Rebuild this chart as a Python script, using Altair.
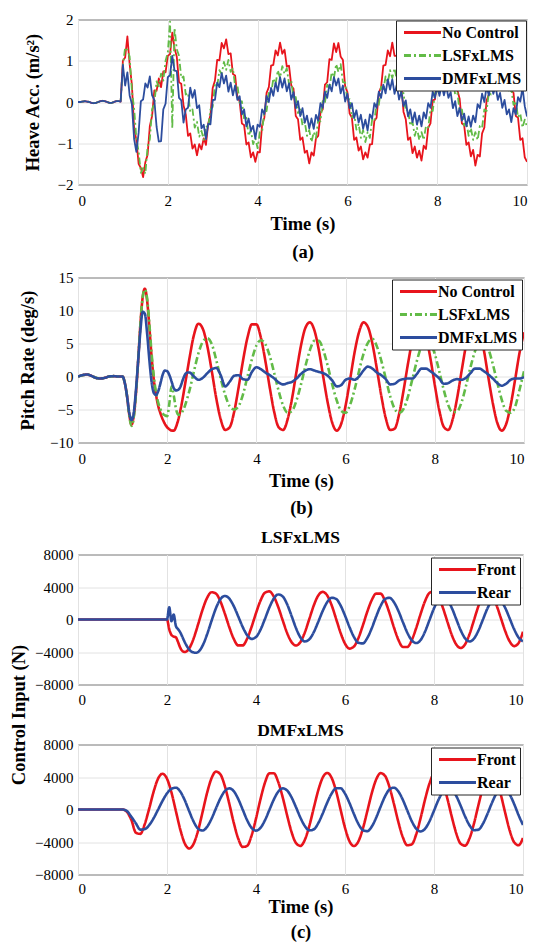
import altair as alt
import pandas as pd

FONT = "Liberation Serif"

# ---------------- categories / styles ----------------
SERIES3 = ["No Control", "LSFxLMS", "DMFxLMS"]
COLORS3 = ["#E8141C", "#62BB47", "#2C4D9E"]
DASH3 = [[1, 0], [7, 3, 2, 3], [1, 0]]
SERIES2 = ["Front", "Rear"]
COLORS2 = ["#E8141C", "#2C4D9E"]
DASH2 = [[1, 0], [1, 0]]

X_TICKS = [0, 2, 4, 6, 8, 10]
HEAVE_TICKS = [-2, -1, 0, 1, 2]
PITCH_TICKS = [-10, -5, 0, 5, 10, 15]
CTRL_TICKS = [-8000, -4000, 0, 4000, 8000]

# ---------------- (a) heave acceleration, sampled every 0.05 s ----------------
HEAVE_T = [round(0.05 * i, 2) for i in range(201)]
HEAVE_PRE = [0.00, 0.00, 0.01, 0.02, 0.01, 0.00, -0.02, -0.03, -0.02, 0.00,
             0.02, 0.03, 0.02, 0.00, -0.02, -0.02, 0.00, 0.02, 0.02, 0.01]
HEAVE_NC = [
    1.00, 1.08, 1.59, 0.92, 0.42, -0.64, -0.92, -1.50, -1.60, -1.82, -1.46, -1.28, -0.58, -0.34, 0.28, 0.27, 0.57, 0.36, 0.74, 0.72,
    1.12, 1.16, 1.68, 1.30, 1.10, 0.48, 0.44, -0.08, -0.30, -0.82, -0.76, -1.13, -1.03, -1.29, -1.02, -1.15, -0.88, -1.04, -0.52, -0.32,
    0.34, 0.52, 1.02, 1.01, 1.43, 1.30, 1.52, 1.16, 1.18, 0.68, 0.64, 0.12, 0.02, -0.52, -0.56, -1.03, -0.98, -1.34, -1.22, -1.45,
    -1.21, -1.22, -0.56, -0.38, 0.22, 0.36, 0.88, 0.90, 1.25, 1.13, 1.44, 1.17, 1.27, 0.86, 0.88, 0.40, 0.32, -0.34, -0.42, -0.92,
    -0.86, -1.23, -1.18, -1.49, -1.22, -1.30, -0.88, -0.82, -0.26, -0.18, 0.42, 0.48, 1.04, 1.02, 1.42, 1.21, 1.43, 1.10, 1.02, 0.38,
    0.24, -0.28, -0.38, -0.92, -0.86, -1.18, -1.08, -1.39, -1.22, -1.35, -1.03, -1.02, -0.46, -0.38, 0.22, 0.36, 0.88, 0.90, 1.25, 1.11,
    1.44, 1.12, 1.12, 0.58, 0.42, -0.24, -0.42, -0.92, -0.86, -1.24, -1.08, -1.35, -1.18, -1.42, -1.06, -1.14, -0.62, -0.52, 0.04, 0.06,
    0.62, 0.68, 1.14, 1.12, 1.38, 1.18, 1.34, 0.86, 0.82, 0.28, 0.08, -0.52, -0.56, -1.04, -0.98, -1.32, -1.16, -1.54, -1.28, -1.32,
    -0.76, -0.62, 0.04, 0.18, 0.74, 0.82, 1.22, 1.08, 1.44, 1.18, 1.32, 0.86, 0.84, 0.28, 0.22, -0.34, -0.38, -0.92, -0.88, -1.34,
    -1.45,
]
HEAVE_LS = [
    0.90, 1.32, 1.26, 1.10, 0.28, -0.16, -0.88, -1.20, -1.72, -1.60, -1.74, -1.08, -0.90, -0.18, -0.04, 0.50, 0.38, 0.69, 0.52, 1.00,
    1.20, 1.95, -0.64, 1.80, 1.28, 1.12, 0.58, 0.62, 0.18, 0.22, -0.24, -0.18, -0.62, -0.48, -0.84, -0.70, -0.92, -0.58, -0.62, -0.18,
    -0.12, 0.42, 0.38, 0.77, 0.68, 0.97, 0.78, 1.02, 0.73, 0.82, 0.38, 0.42, -0.02, 0.02, -0.42, -0.38, -0.82, -0.68, -1.02, -0.88,
    -1.12, -0.73, -0.72, -0.23, -0.22, 0.22, 0.18, 0.57, 0.43, 0.77, 0.58, 0.87, 0.68, 0.82, 0.43, 0.52, 0.08, 0.12, -0.27, -0.18,
    -0.57, -0.48, -0.82, -0.68, -0.97, -0.73, -0.87, -0.43, -0.47, 0.02, -0.02, 0.42, 0.33, 0.72, 0.58, 0.92, 0.73, 0.92, 0.48, 0.47,
    0.03, 0.07, -0.37, -0.28, -0.67, -0.53, -0.87, -0.68, -0.97, -0.73, -0.87, -0.43, -0.47, -0.03, -0.07, 0.37, 0.28, 0.62, 0.48, 0.77,
    0.58, 0.82, 0.53, 0.62, 0.18, 0.22, -0.22, -0.18, -0.57, -0.48, -0.82, -0.63, -0.92, -0.73, -0.92, -0.58, -0.62, -0.18, -0.22, 0.22,
    0.18, 0.57, 0.43, 0.77, 0.58, 0.82, 0.48, 0.57, 0.18, 0.22, -0.22, -0.18, -0.57, -0.48, -0.82, -0.63, -0.92, -0.73, -0.92, -0.58,
    -0.62, -0.18, -0.22, 0.22, 0.18, 0.57, 0.43, 0.77, 0.58, 0.82, 0.48, 0.62, 0.23, 0.32, -0.07, 0.02, -0.37, -0.28, -0.62, -0.43,
    -0.60,
]
HEAVE_DM = [
    0.90, 0.40, 0.72, 0.16, -0.05, -0.90, -1.21, -0.75, 0.02, 0.06, 0.45, 0.35, 0.62, 0.16, 0.05, -0.60, -0.96, -0.95, -0.18, -0.04,
    0.60, 0.65, 1.12, 0.76, 0.75, 0.10, 0.04, -0.50, -0.18, -0.14, 0.35, 0.10, 0.29, -0.15, -0.08, -0.64, -0.55, -0.90, -0.53, -0.54,
    0.05, 0.05, 0.47, 0.36, 0.70, 0.45, 0.64, 0.25, 0.47, 0.16, 0.40, 0.05, 0.14, -0.30, -0.18, -0.59, -0.40, -0.70, -0.58, -0.89,
    -0.55, -0.60, -0.18, -0.29, 0.15, 0.00, 0.34, 0.15, 0.47, 0.26, 0.60, 0.35, 0.57, 0.26, 0.45, 0.06, 0.24, -0.15, 0.02, -0.34,
    -0.15, -0.50, -0.33, -0.64, -0.40, -0.65, -0.31, -0.45, -0.03, -0.14, 0.25, 0.10, 0.42, 0.26, 0.60, 0.40, 0.57, 0.21, 0.40, 0.01,
    0.20, -0.15, -0.03, -0.39, -0.20, -0.50, -0.31, -0.65, -0.43, -0.69, -0.30, -0.40, -0.03, -0.14, 0.25, 0.10, 0.42, 0.21, 0.55, 0.30,
    0.55, 0.20, 0.42, 0.06, 0.25, -0.10, 0.04, -0.35, -0.18, -0.49, -0.25, -0.55, -0.33, -0.59, -0.25, -0.40, -0.03, -0.14, 0.25, 0.10,
    0.40, 0.15, 0.42, 0.16, 0.40, 0.10, 0.24, -0.15, 0.02, -0.34, -0.15, -0.45, -0.28, -0.59, -0.35, -0.60, -0.33, -0.49, -0.05, -0.15,
    0.20, 0.00, 0.37, 0.16, 0.45, 0.20, 0.39, 0.05, 0.22, -0.14, 0.05, -0.30, -0.18, -0.49, -0.15, -0.30, 0.12, 0.01, 0.35, -0.10,
    -0.35,
]

# ---------------- (b) pitch rate ----------------
PITCH_T = ([round(0.1 * i, 2) for i in range(11)]
           + [round(1.0 + 0.05 * i, 2) for i in range(1, 31)]
           + [round(2.5 + 0.1 * i, 2) for i in range(1, 76)])
PITCH_PRE = [0.0, 0.2, 0.3, 0.1, -0.2, -0.3, -0.2, 0.0, 0.05, 0.0, 0.0]
PITCH_NC = [
    -1.0, -3.0, -5.8, -7.3, -6.0, -2.5, 2.5, 8.0, 12.0, 13.3,
    11.5, 7.5, 3.0, -0.5, -2.8, -4.5, -5.6, -6.5, -7.2, -7.7,
    -8.0, -8.2, -8.2, -7.6, -6.5, -5.0, -3.2, -1.2, 0.8, 2.8,
    6.3, 8.0, 7.2, 4.6, 0.8, -3.3, -6.5, -8.1, -7.7, -5.4,
    -1.7, 2.4, 5.9, 7.9, 7.9, 5.9, 2.4, -1.7, -5.4, -7.7,
    -8.1, -6.5, -3.3, 0.8, 4.7, 7.4, 8.2, 7.0, 4.0, -0.1,
    -4.0, -7.0, -8.2, -7.2, -4.4, -0.5, 3.6, 6.7, 8.2, 7.5,
    5.0, 1.2, -2.9, -6.3, -8.1, -7.9, -5.7, -2.1, 2.0, 5.6,
    7.8, 8.0, 6.2, 2.8, -1.3, -5.1, -7.6, -8.1, -6.5, -3.3,
    0.8, 4.7, 7.4, 8.2, 7.0, 4.0, -0.1, -4.0, -7.0, -8.2,
    -7.2, -4.4, -0.5, 3.6, 6.7,
]
PITCH_LS = [
    -1.0, -3.0, -6.0, -7.5, -6.2, -2.5, 2.5, 8.0, 12.0, 13.2,
    11.8, 8.0, 3.5, 0.0, -2.5, -4.0, -5.0, -5.6, -5.9, -6.0,
    -4.0, -1.5, -3.0, -5.0, -5.8, -5.7, -5.2, -4.4, -3.3, -2.1,
    0.8, 3.5, 5.3, 5.8, 4.9, 2.5, -0.3, -2.8, -4.5, -5.0,
    -4.5, -2.7, 0.0, 2.6, 4.7, 5.5, 4.9, 3.1, 0.5, -2.2,
    -4.4, -5.5, -5.2, -3.6, -1.2, 1.6, 4.0, 5.4, 5.4, 4.0,
    1.6, -1.2, -3.6, -5.2, -5.5, -4.3, -2.0, 0.8, 3.4, 5.1,
    5.7, 4.6, 2.4, -0.3, -3.0, -4.9, -5.5, -4.9, -3.0, -0.3,
    2.4, 4.6, 5.6, 5.1, 3.4, 0.8, -2.0, -4.3, -5.4, -5.3,
    -3.9, -1.4, 1.4, 3.8, 5.3, 5.5, 4.2, 1.9, -0.9, -3.5,
    -5.2, -5.5, -4.6, -2.0, 0.8,
]
PITCH_DM = [
    -1.0, -3.0, -5.5, -6.6, -5.5, -2.0, 2.5, 7.0, 9.8, 9.5,
    6.5, 2.5, -0.8, -2.5, -2.8, -2.2, -1.0, 0.3, 0.9, 0.8,
    0.2, -0.8, -1.8, -2.1, -2.0, -1.5, -0.5, 0.3, 0.6, 0.6,
    0.0, -0.5, -0.2, 0.5, 1.1, 1.3, 0.2, -1.5, -0.8, 0.1,
    0.2, -0.4, -0.5, 0.7, 1.4, 1.1, 0.6, 0.2, -0.3, -0.9,
    -1.2, -1.0, -0.8, -0.3, 0.4, 0.9, 1.1, 0.9, 0.7, 0.5,
    0.1, -0.6, -1.5, -1.3, -0.5, -0.3, -0.5, 0.0, 0.9, 1.5,
    1.2, 0.6, 0.2, -0.4, -1.2, -1.1, -0.6, -0.4, -0.3, -0.3,
    0.4, 1.2, 1.2, 0.8, 0.3, -0.3, -1.1, -1.0, -0.6, -0.4,
    -0.5, -0.2, 0.5, 1.2, 1.2, 0.8, 0.3, -0.3, -1.0, -1.4,
    -1.1, -0.5, -0.3, -0.3, -0.1,
]

# ---------------- (c) control inputs ----------------
LS_T = ([0.0, 0.5, 1.0, 1.5, 1.95]
        + [round(2.0 + 0.05 * i, 2) for i in range(15)]
        + [round(2.7 + 0.1 * i, 2) for i in range(1, 74)])
LS_FRONT = [
    0, 0, 0, 0, 0,
    0, -1200, -1900, -2100, -2200, -2800, -3500, -3900, -4000, -3880, -3550, -3010, -2310, -1480, -580,
    1220, 2650, 3360,
    3190, 2230, 720, -950, -2380, -3190, -3190, -2370, -920, 780,
    2310, 3290, 3460, 2820, 1530, -100, -1670, -2790, -3200, -2760,
    -1550, 100, 1750, 2960, 3400, 2960, 1755, 77, -1630, -2970,
    -3580, -3330, -2300, -750, 950, 2380, 3190, 3180, 2300, 780,
    -980, -2500, -3380, -3390, -2540, -1050, 700, 2280, 3280, 3460,
    2790, 1440, -260, -1900, -3070, -3500, -3040, -1775, -50, 1675,
    2940, 3400, 2980, 1825, 220, -1420, -2690, -3280, -2900, -1500,
]
LS_REAR = [
    0, 0, 0, 0, 0,
    0, 1500, -200, 600, -800, -1200, -1600, -2200, -2800, -3300, -3700, -3950, -4050, -4100, -4000,
    -3220, -1840, -180,
    1390, 2500, 2900, 2570, 1650, 390, -910, -1920, -2390, -2160,
    -1270, 60, 1470, 2575, 3085, 2840, 1870, 430, -1070, -2220,
    -2700, -2424, -1541, -273, 1064, 2137, 2669, 2530, 1735, 486,
    -920, -2140, -2870, -2940, -2290, -1090, 360, 1675, 2516, 2670,
    2134, 1053, -310, -1620, -2560, -2900, -2520, -1475, -50, 1375,
    2418, 2800, 2430, 1425, 50, -1325, -2330, -2700, -2338, -1350,
    0, 1350, 2338, 2700, 2361, 1431, 141, -1184, -2212, -2685,
]
DM_T = [round(0.1 * i, 2) for i in range(101)]
DM_FRONT = [
    0, 0, 0, 0, 0, 0, 0, 0, 0, 0, 0,
    -300, -1300, -2850, -3000, -1800, 115, 2205, 3806, 4400, 3784,
    2100, -200, -2500, -4184, -4800, -4200, -2570, -300, 2030, 3840,
    4670, 4320, 2873, 711, -1630, -3568, -4604, -4480, -3210, -1120,
    1250, 3280, 4450, 4460, 3380, 1500, -740, -2790, -4140, -4477,
    -3696, -1980, 228, 2377, 3936, 4500, 3897, 2250, 0, -2250,
    -3897, -4500, -3936, -2385, -235, 1973, 3686, 4475, 4136, 2752,
    681, -1561, -3416, -4408, -4287, -3056, -1035, 1255, 3222, 4351,
    4357, 3264, 1346, -905, -2930, -4220, -4446, -3526, -1693, 580,
    2701, 4123, 4476, 3650, 1860, -415, -2566, -4015, -4400, -3500,
]
DM_REAR = [
    0, 0, 0, 0, 0, 0, 0, 0, 0, 0, 0,
    -200, -900, -1700, -2480, -2420, -1923, -1072, -9, 1070, 1977,
    2551, 2685, 2194, 1128, -227, -1508, -2371, -2587, -2135, -1144,
    132, 1373, 2274, 2600, 2252, 1300, 0, -1300, -2252, -2600,
    -2263, -1339, -68, 1221, 2193, 2596, 2334, 1484, 263, -1024,
    -2057, -2570, -2435, -1675, -483, 842, 1972, 2616, 2614, 1958,
    807, -543, -1758, -2532, -2668, -2116, -1016, 348, 1621, 2474,
    2686, 2217, 1188, -137, -1426, -2361, -2700, -2361, -1431, -141,
    1184, 2212, 2685, 2486, 1671, 451, -869, -1962, -2546, -2475,
    -1750, -560, 789, 1946, 2612, 2560, 1870, 690, -690, -1900,
]


def long_table(t, names, lists):
    rows = []
    for name, vals in zip(names, lists):
        assert len(vals) == len(t), (name, len(vals), len(t))
        for ti, vi in zip(t, vals):
            rows.append({"t": ti, "v": vi, "series": name})
    return pd.DataFrame(rows)


df_a = long_table(HEAVE_T, SERIES3,
                  [HEAVE_PRE + HEAVE_NC, HEAVE_PRE + HEAVE_LS, HEAVE_PRE + HEAVE_DM])
df_b = long_table(PITCH_T, SERIES3,
                  [PITCH_PRE + PITCH_NC, PITCH_PRE + PITCH_LS, PITCH_PRE + PITCH_DM])
df_c1 = long_table(LS_T, SERIES2, [LS_FRONT, LS_REAR])
df_c2 = long_table(DM_T, SERIES2, [DM_FRONT, DM_REAR])


def legend(offset):
    return alt.Legend(
        title=None, orient="top-right", offset=offset,
        symbolType="M-0.67,0H5.5", symbolSize=144, symbolStrokeWidth=3,
        labelOffset=26, rowPadding=7, padding=4,
        fillColor="white", strokeColor="#262626", cornerRadius=0,
        labelFont=FONT, labelFontSize=16, labelFontWeight="bold", labelColor="black",
    )


def enc_series(names, colors, dashes, offset):
    lg = legend(offset)
    return dict(
        color=alt.Color("series:N", scale=alt.Scale(domain=names, range=colors), legend=lg),
        strokeDash=alt.StrokeDash("series:N", scale=alt.Scale(domain=names, range=dashes), legend=lg),
    )


def x_enc(title, title_pad, line_h, label_pad):
    kw = dict(values=X_TICKS, labelPadding=label_pad)
    if title is None:
        kw["title"] = None
    else:
        kw.update(title=title, titlePadding=title_pad, titleLineHeight=line_h)
    return alt.X("t:Q", scale=alt.Scale(domain=[0, 10], nice=False, zero=False), axis=alt.Axis(**kw))


chart_a = alt.Chart(df_a).mark_line(strokeWidth=1.8, clip=True, strokeJoin="round").encode(
    x=x_enc(["Time (s)", "(a)"], 6, 28, 8.5),
    y=alt.Y("v:Q", scale=alt.Scale(domain=[-2, 2], nice=False),
            axis=alt.Axis(values=HEAVE_TICKS, title="Heave Acc. (m/s²)", titleX=-46,
                          titleBaseline="middle", labelPadding=5)),
    **enc_series(SERIES3, COLORS3, DASH3, 1),
).properties(width=449, height=165)

chart_b = alt.Chart(df_b).mark_line(strokeWidth=2.6, clip=True, interpolate="monotone").encode(
    x=x_enc(["Time (s)", "(b)"], 5, 27, 8.5),
    y=alt.Y("v:Q", scale=alt.Scale(domain=[-10, 15], nice=False),
            axis=alt.Axis(values=PITCH_TICKS, title="Pitch Rate (deg/s)", titleX=-51,
                          titleBaseline="middle", labelPadding=5)),
    **enc_series(SERIES3, COLORS3, DASH3, 2),
).properties(width=446, height=165)


def title(text, offset):
    return alt.TitleParams(text, font=FONT, fontSize=17.5, fontWeight="bold", color="black",
                           offset=offset, frame="group", anchor="middle")


chart_c1 = alt.Chart(df_c1).mark_line(strokeWidth=2.6, clip=True, interpolate="monotone").encode(
    x=x_enc(None, 0, 0, 8),
    y=alt.Y("v:Q", scale=alt.Scale(domain=[-8000, 8000], nice=False),
            axis=alt.Axis(values=CTRL_TICKS, format="d", title="Control Input (N)", titleX=-60,
                          titleY=160, titleBaseline="middle", labelPadding=5)),
    **enc_series(SERIES2, COLORS2, DASH2, 3),
).properties(width=445, height=130, title=title("LSFxLMS", 1))

chart_c2 = alt.Chart(df_c2).mark_line(strokeWidth=2.6, clip=True, interpolate="monotone").encode(
    x=x_enc(["Time (s)", "(c)"], 1, 25, 7),
    y=alt.Y("v:Q", scale=alt.Scale(domain=[-8000, 8000], nice=False),
            axis=alt.Axis(values=CTRL_TICKS, format="d", title=None, labelPadding=5)),
    **enc_series(SERIES2, COLORS2, DASH2, 3),
).properties(width=445, height=130, title=title("DMFxLMS", -2))


def independent(c):
    return c.resolve_scale(
        color="independent", strokeDash="independent", y="independent"
    ).resolve_legend(color="independent", strokeDash="independent")


top = independent(alt.vconcat(chart_a, chart_b, spacing=93, bounds="flush"))
bottom = independent(alt.vconcat(chart_c1, chart_c2, spacing=60, bounds="flush"))

chart = independent(alt.vconcat(top, bottom, spacing=11)).properties(
    padding={"left": 0, "top": 3.5, "right": 5, "bottom": 0},
    background="white",
).configure_view(
    stroke="#262626", strokeWidth=1,
).configure_axis(
    labelFont=FONT, labelFontSize=15, labelColor="black",
    titleFont=FONT, titleFontSize=18.5, titleFontWeight="bold", titleColor="black",
    gridColor="#E2E2E2", gridWidth=1, ticks=False, tickSize=0, domain=False,
)

chart.save("out.html", embed_options={"renderer": "svg", "actions": False})
